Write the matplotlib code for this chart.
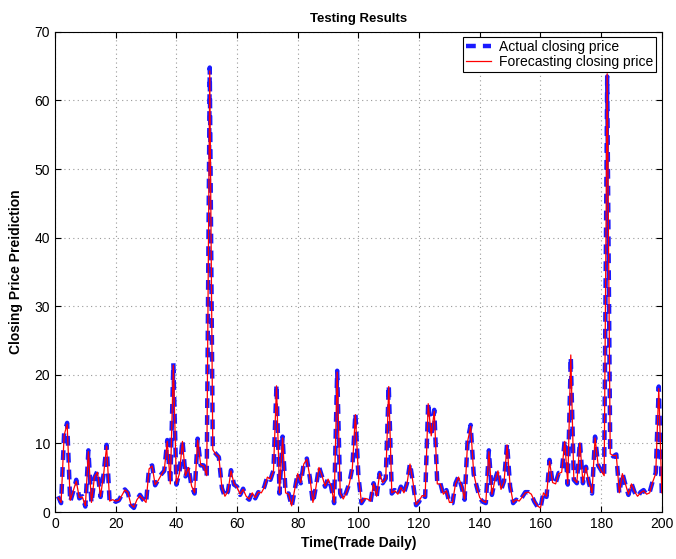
import numpy as np
import matplotlib.pyplot as plt

plt.rcParams['font.family'] = ['Liberation Sans', 'DejaVu Sans']

# trading days and closing prices
days = list(range(1, 201))
actual = [
    2.3, 1.3, 11.5, 13.0, 1.5, 3.0, 4.7, 2.0, 2.3, 0.8,
    9.0, 1.3, 5.0, 6.0, 2.2, 5.5, 9.8, 1.5, 1.8, 1.5,
    1.7, 2.5, 3.3, 2.8, 1.0, 0.6, 1.8, 2.5, 1.8, 1.3,
    6.5, 6.8, 3.9, 4.7, 5.5, 6.0, 10.5, 4.0, 21.7, 4.0,
    5.7, 10.5, 5.2, 6.6, 3.7, 2.7, 10.7, 6.8, 6.8, 5.2,
    64.8, 9.0, 8.5, 8.0, 3.5, 2.2, 3.0, 6.1, 4.0, 3.7,
    2.5, 3.4, 2.2, 1.8, 2.9, 2.0, 2.9, 2.7, 3.7, 5.2,
    4.7, 6.1, 18.6, 2.7, 11.0, 2.7, 2.7, 0.8, 3.2, 5.7,
    4.2, 7.1, 7.8, 5.0, 1.3, 3.7, 6.6, 5.2, 3.7, 4.9,
    3.7, 1.3, 20.6, 2.7, 1.8, 2.9, 4.2, 6.5, 14.4, 5.2,
    1.3, 2.0, 1.8, 1.5, 4.2, 2.2, 5.7, 4.2, 4.9, 18.5,
    2.7, 3.2, 2.5, 3.7, 2.7, 4.2, 7.1, 4.2, 1.0, 1.5,
    2.5, 2.2, 16.0, 11.0, 14.9, 4.0, 4.2, 2.5, 3.2, 1.3,
    1.3, 4.2, 5.2, 3.7, 1.8, 10.5, 12.7, 5.5, 3.7, 2.0,
    1.5, 1.3, 9.0, 2.5, 4.7, 6.1, 3.2, 4.5, 10.0, 3.7,
    1.3, 1.8, 1.5, 2.2, 2.9, 2.9, 2.5, 1.5, 0.8, 0.5,
    2.9, 2.2, 7.6, 4.2, 4.2, 5.7, 5.7, 10.5, 4.0, 22.6,
    4.7, 4.2, 10.3, 4.2, 6.6, 4.2, 2.7, 11.0, 6.8, 6.1,
    5.2, 63.5, 8.6, 8.1, 8.4, 2.7, 5.7, 4.0, 2.5, 4.2,
    2.9, 2.2, 2.9, 3.2, 2.5, 2.9, 4.5, 5.7, 18.3, 2.7,
]
forecast = [
    2.1, 1.4, 11.2, 12.8, 1.7, 3.1, 4.5, 2.1, 2.2, 0.9,
    8.8, 1.4, 5.1, 5.8, 2.3, 5.4, 9.6, 1.6, 1.8, 1.6,
    1.7, 2.4, 3.2, 2.9, 1.1, 0.7, 1.8, 2.4, 1.9, 1.4,
    6.3, 6.7, 4.0, 4.6, 5.4, 6.1, 10.3, 4.1, 21.4, 4.1,
    5.6, 10.3, 5.3, 6.5, 3.8, 2.8, 10.5, 6.9, 6.7, 5.3,
    64.3, 9.1, 8.4, 8.1, 3.6, 2.3, 3.0, 6.0, 4.1, 3.6,
    2.6, 3.3, 2.3, 1.9, 2.8, 2.1, 2.9, 2.8, 3.6, 5.1,
    4.8, 6.0, 18.4, 2.8, 10.8, 2.8, 2.6, 0.9, 3.3, 5.6,
    4.3, 7.0, 7.7, 5.1, 1.4, 3.6, 6.5, 5.3, 3.8, 4.8,
    3.8, 1.4, 20.4, 2.8, 1.9, 2.8, 4.1, 6.4, 14.2, 5.3,
    1.4, 2.0, 1.9, 1.6, 4.1, 2.3, 5.6, 4.3, 4.8, 18.3,
    2.8, 3.1, 2.6, 3.6, 2.8, 4.1, 7.0, 4.3, 1.1, 1.6,
    2.4, 2.3, 15.8, 11.1, 14.7, 4.1, 4.1, 2.6, 3.1, 1.4,
    1.4, 4.1, 5.1, 3.8, 1.9, 10.3, 12.5, 5.6, 3.6, 2.1,
    1.6, 1.4, 8.8, 2.6, 4.6, 6.0, 3.3, 4.4, 9.8, 3.8,
    1.4, 1.8, 1.6, 2.2, 2.8, 2.9, 2.6, 1.6, 0.9, 0.6,
    2.8, 2.3, 7.4, 4.3, 4.1, 5.6, 5.8, 10.3, 4.1, 22.9,
    4.8, 4.3, 10.1, 4.3, 6.5, 4.3, 2.8, 10.8, 6.9, 6.0,
    5.3, 63.9, 8.5, 8.2, 8.3, 2.8, 5.6, 4.1, 2.6, 4.1,
    3.0, 2.3, 2.8, 3.1, 2.6, 2.8, 4.4, 5.6, 18.0, 2.8,
]

fig = plt.figure(figsize=(6.76, 5.59), dpi=100)
ax = fig.add_axes([0.0814, 0.084, 0.8976, 0.859])

ax.plot(days, actual, color='#1a1aff', linestyle='--', linewidth=3.2,
        dashes=(2.2, 1.6), label='Actual closing price')
ax.plot(days, forecast, color='red', linewidth=0.9, label='Forecasting closing price')

ax.set_xlim(0, 200)
ax.set_ylim(0, 70)
ax.set_xticks(np.arange(0, 201, 20))
ax.set_yticks(np.arange(0, 71, 10))
ax.tick_params(direction='in', top=True, right=True, labelsize=10, length=4, width=0.8)
ax.grid(True, linestyle=(0, (1, 3)), color='#999999', linewidth=0.8)
for spine in ax.spines.values():
    spine.set_linewidth(0.8)

ax.set_title('Testing Results', fontsize=9.5, fontweight='bold', pad=7)
ax.set_xlabel('Time(Trade Daily)', fontsize=10, fontweight='bold', labelpad=4)
ax.set_ylabel('Closing Price Preidiction', fontsize=10, fontweight='bold', labelpad=8)

leg = ax.legend(loc='upper right', fontsize=10, fancybox=False, framealpha=1,
                edgecolor='black', borderaxespad=0.4, handlelength=1.8,
                borderpad=0.2, labelspacing=0.05, handletextpad=0.6)
leg.get_frame().set_linewidth(0.8)

plt.savefig('out.png', dpi=100)
plt.close()
